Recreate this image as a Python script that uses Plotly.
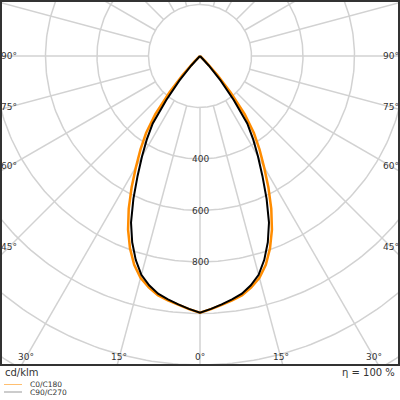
import numpy as np
import plotly.graph_objects as go

# luminous intensity (cd/klm), 0 deg = straight down
angles = [0, 2.5, 5, 7.5, 10, 12.5, 15, 17.5, 20, 22.5, 25, 27.5, 30, 32.5, 35, 37.5,
          40, 42.5, 45, 47.5, 50, 60, 70, 80, 90]
c0_c180 = [997, 984, 970, 957, 943, 920, 892, 850, 795, 730, 655, 575, 497, 430, 365, 285,
           185, 100, 30, 0, 0, 0, 0, 0, 0]
c90_c270 = [997, 983, 968, 953, 937, 912, 880, 830, 770, 700, 612, 525, 450, 385, 320, 215,
            125, 50, 0, 0, 0, 0, 0, 0, 0]

ring_values = [200, 400, 600, 800, 1000, 1200, 1400, 1600]
ring_labels = [400, 600, 800]
side_labels = [90, 75, 60, 45]
bottom_labels = [30, 15, 0]

S = 0.2575  # px per cd/klm
CX, CY = 200, 56  # pole position in px


def xd(px):
    return (px - CX) / S


def yd(py):
    return (CY - py) / S


def px_paper(px):
    return (px - 1) / 398


def py_paper(py):
    return (365 - py) / 364


def curve(vals):
    a = np.radians(np.array(angles, dtype=float))
    v = np.array(vals, dtype=float)
    g = np.concatenate([-a[::-1], a[1:]])
    r = np.concatenate([v[::-1], v[1:]])
    return r * np.sin(g), -r * np.cos(g)


fig = go.Figure()
grid = dict(color="#d2d2d2", width=1.5)

t = np.linspace(0, 2 * np.pi, 361)
for r in ring_values:
    fig.add_trace(go.Scatter(x=r * np.sin(t), y=r * np.cos(t), mode="lines",
                             line=grid, hoverinfo="skip", showlegend=False))
for a in range(0, 360, 15):
    g = np.radians(a)
    fig.add_trace(go.Scatter(x=[200 * np.sin(g), 3000 * np.sin(g)],
                             y=[-200 * np.cos(g), -3000 * np.cos(g)],
                             mode="lines", line=grid, hoverinfo="skip", showlegend=False))

x, y = curve(c0_c180)
fig.add_trace(go.Scatter(x=x, y=y, mode="lines", line=dict(color="#ff8c00", width=2.5),
                         name="C0/C180", showlegend=False))
x, y = curve(c90_c270)
fig.add_trace(go.Scatter(x=x, y=y, mode="lines", line=dict(color="#000000", width=2),
                         name="C90/C270", showlegend=False))

lab = dict(family="DejaVu Sans", size=9, color="#333333")
ann = []
for v in ring_labels:
    ann.append(dict(x=0, y=-v, text=str(v), showarrow=False, font=lab))
for a in side_labels:
    xx = abs(xd(9))
    yy = -xx * np.cos(np.radians(a)) / np.sin(np.radians(a))
    ann.append(dict(x=-xx, y=yy, text=f"{a}°", showarrow=False, font=lab))
    ann.append(dict(x=xx, y=yy, text=f"{a}°", showarrow=False, font=lab))
for a in bottom_labels:
    yy = yd(357)
    xx = abs(yy) * np.tan(np.radians(a))
    ann.append(dict(x=-xx, y=yy, text=f"{a}°", showarrow=False, font=lab))
    if a:
        ann.append(dict(x=xx, y=yy, text=f"{a}°", showarrow=False, font=lab))

txt = dict(family="DejaVu Sans", size=10, color="#333333")
ann.append(dict(xref="paper", yref="paper", x=px_paper(3), y=py_paper(372), text="cd/klm",
                showarrow=False, xanchor="left", yanchor="middle", font=txt))
ann.append(dict(xref="paper", yref="paper", x=px_paper(397), y=py_paper(372), text="η = 100 %",
                showarrow=False, xanchor="right", yanchor="middle", font=txt))
leg = dict(family="DejaVu Sans", size=7.5, color="#333333")
legend_items = [("C0/C180", "#ffbf70", 384.5), ("C90/C270", "#999999", 392)]
shapes = [dict(type="rect", xref="paper", yref="paper", x0=0, x1=1, y0=0, y1=1,
               line=dict(color="#333333", width=2))]
for name, col, py in legend_items:
    shapes.append(dict(type="line", xref="paper", yref="paper", x0=px_paper(4), x1=px_paper(22),
                       y0=py_paper(py), y1=py_paper(py), line=dict(color=col, width=1)))
    ann.append(dict(xref="paper", yref="paper", x=px_paper(28), y=py_paper(py), text=name,
                    showarrow=False, xanchor="left", yanchor="middle", font=leg))

fig.update_layout(
    width=400, height=400,
    margin=dict(l=1, r=1, t=1, b=35),
    paper_bgcolor="white", plot_bgcolor="white",
    xaxis=dict(range=[xd(1), xd(399)], visible=False, fixedrange=True),
    yaxis=dict(range=[yd(365), yd(1)], visible=False, fixedrange=True),
    annotations=ann, shapes=shapes, showlegend=False,
)

fig.write_html("out.html", config={"staticPlot": True},
               post_script="document.body.style.margin='0';")
